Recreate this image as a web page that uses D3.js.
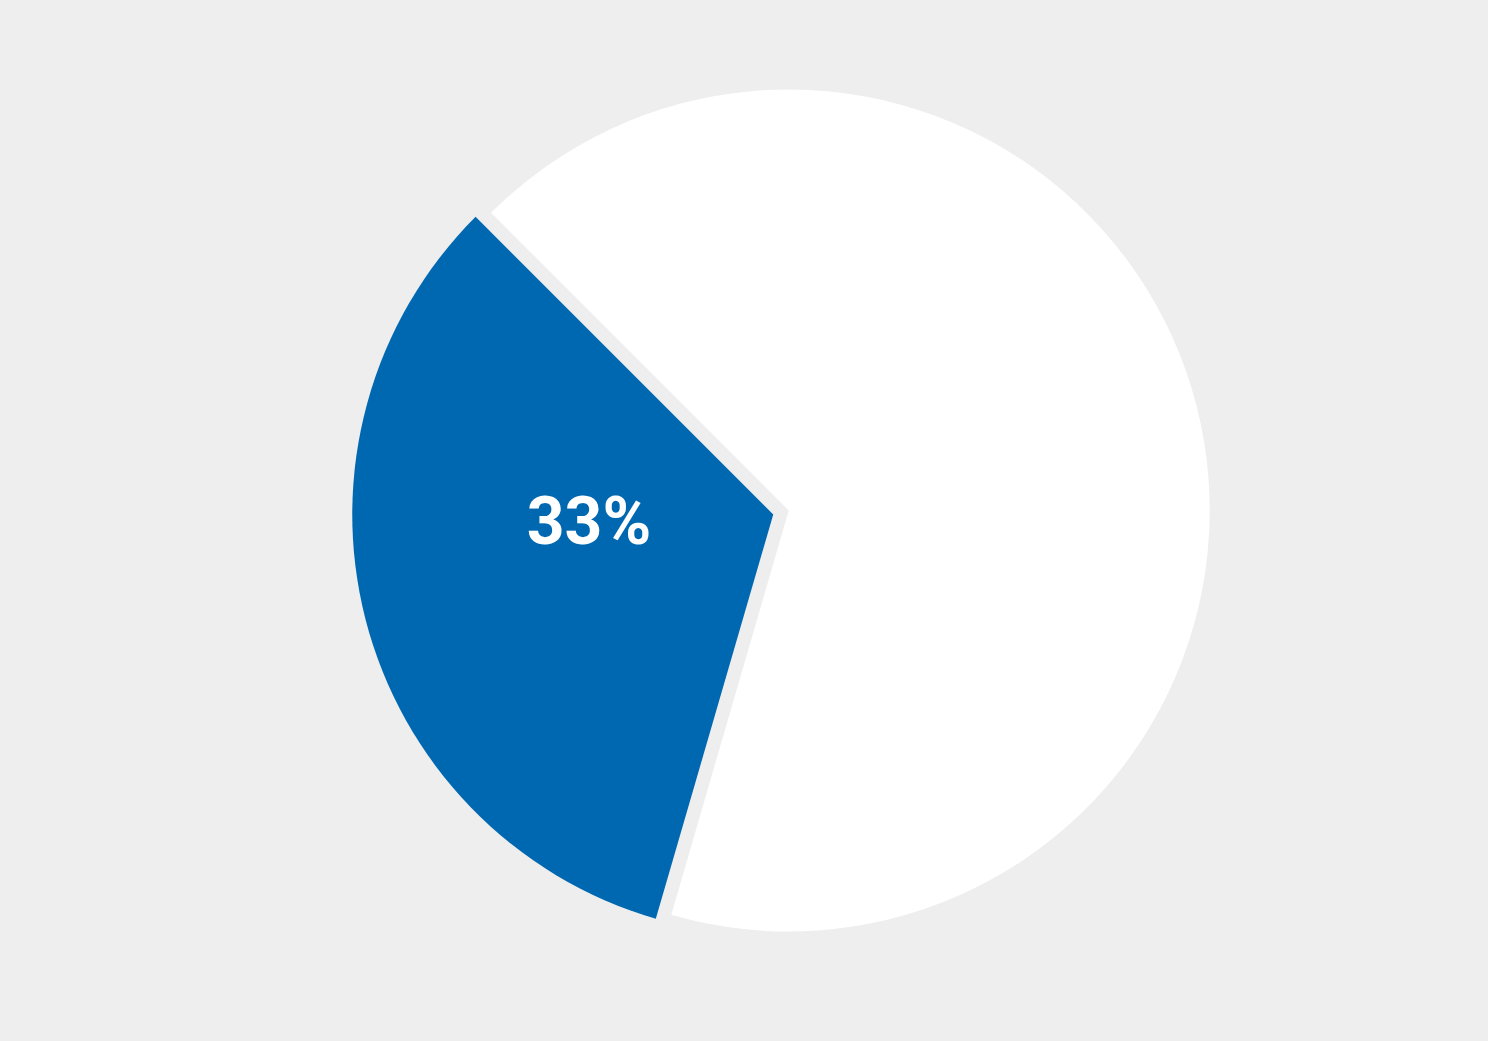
<!DOCTYPE html>
<html>
<head>
<meta charset="utf-8">
<script src="https://cdn.jsdelivr.net/npm/d3@7"></script>
<style>
  html, body { margin: 0; padding: 0; background: #eeeeee; }
</style>
</head>
<body>
<div id="chart"></div>
<script>
// data
const categories = ['Other', 'Share'];
const values = [67, 33];
const labels = ['', '33%'];
const colours = ['#ffffff', '#0068b1'];

const width = 1488;
const height = 1041;
const radius = 421;
const cx = 781;
const cy = 512.5;
const explode = 8;

const svg = d3
  .select('#chart')
  .append('svg')
  .attr('width', width)
  .attr('height', height)
  .style('display', 'block')
  .style('background', '#eeeeee');

const pie = d3
  .pie()
  .sort(null)
  .value(d => d.value)
  .startAngle(-Math.PI / 4)
  .endAngle(2 * Math.PI - Math.PI / 4);

const arc = d3.arc().innerRadius(0).outerRadius(radius);

const slices = pie(categories.map((c, i) => ({ name: c, value: values[i], label: labels[i], colour: colours[i] })));

function offset(d) {
  const mid = (d.startAngle + d.endAngle) / 2;
  return [Math.sin(mid) * explode, -Math.cos(mid) * explode];
}

const g = svg.append('g').attr('transform', 'translate(' + cx + ',' + cy + ')');

const slice = g
  .selectAll('g')
  .data(slices)
  .enter()
  .append('g')
  .attr('transform', d => 'translate(' + offset(d).join(',') + ')');

slice
  .append('path')
  .attr('d', arc)
  .attr('fill', d => d.data.colour);

// label sits a bit above the slice centroid
slice
  .filter(d => d.data.label)
  .append('text')
  .text(d => d.data.label)
  .attr('x', d => Math.sin(d.endAngle - 0.825) * radius * 0.438)
  .attr('y', d => -Math.cos(d.endAngle - 0.825) * radius * 0.438)
  .attr('text-anchor', 'middle')
  .attr('dominant-baseline', 'central')
  .style('font-family', 'Roboto, sans-serif')
  .style('font-weight', 'bold')
  .style('font-size', '66px')
  .style('fill', '#ffffff');
</script>
</body>
</html>
